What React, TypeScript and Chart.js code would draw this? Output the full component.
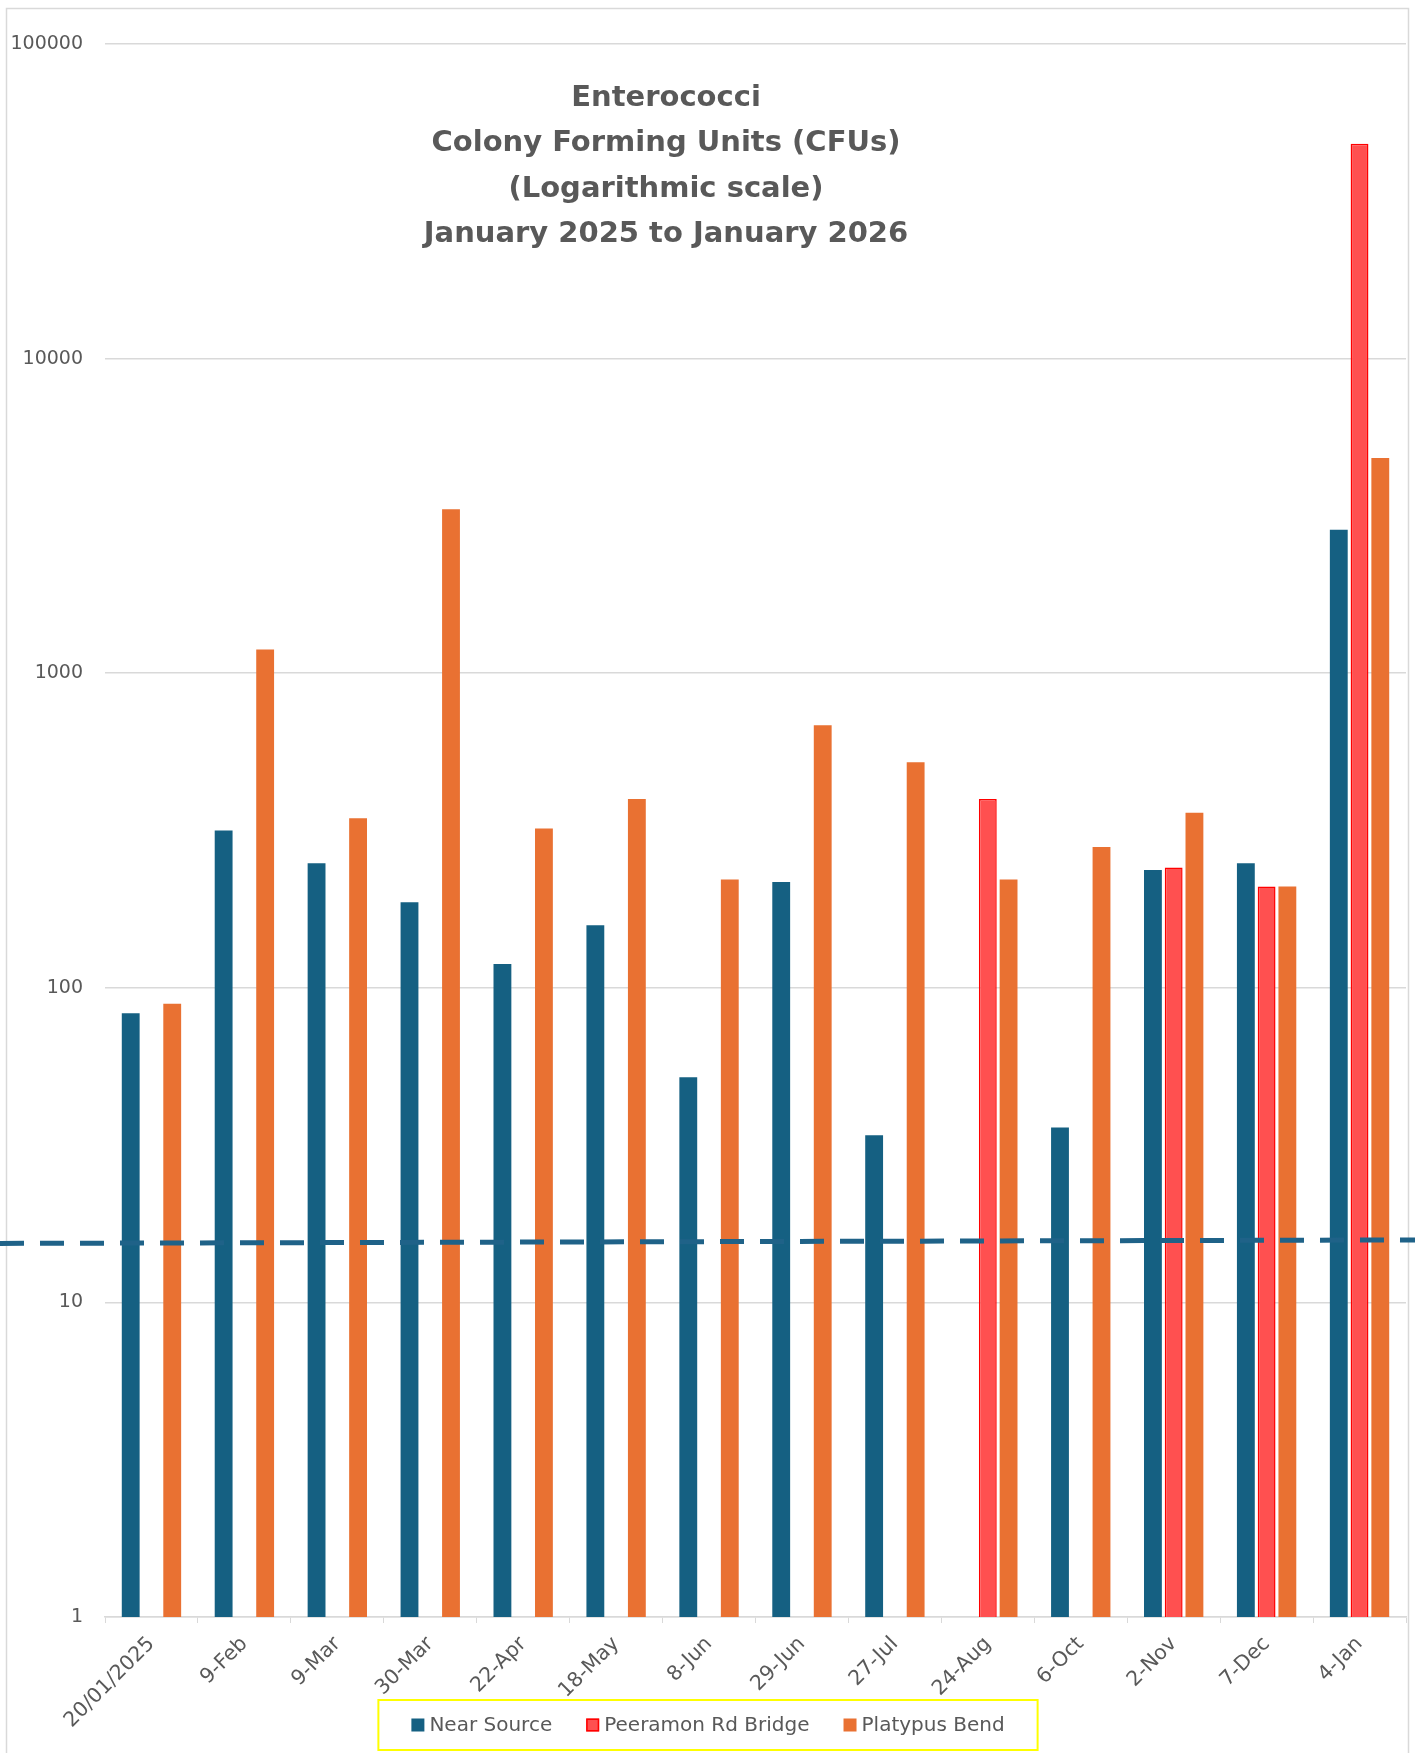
import React, { useEffect, useRef } from "react";
import { Chart, registerables } from "chart.js";

Chart.register(...registerables);

const categories = [
  "20/01/2025", "9-Feb", "9-Mar", "30-Mar", "22-Apr", "18-May", "8-Jun",
  "29-Jun", "27-Jul", "24-Aug", "6-Oct", "2-Nov", "7-Dec", "4-Jan",
];
const nearSource = [83, 316, 249, 187, 119, 158, 52, 217, 34, null, 36, 237, 249, 2860];
const peeramonRdBridge = [null, null, null, null, null, null, null, null, null, 398, null, 241, 210, 48200];
const platypusBend = [89, 1190, 346, 3320, 321, 398, 221, 683, 521, 221, 280, 360, 210, 4830];
const yTickValues = [1, 10, 100, 1000, 10000, 100000];
// dashed reference line: value at the left edge and at the right edge
const referenceLine = [15.4, 15.8];
const titleLines = [
  "Enterococci",
  "Colony Forming Units (CFUs)",
  "(Logarithmic scale)",
  "January 2025 to January 2026",
];

const W = 1415;
const H = 1753;
const GRAY_TEXT = "#595959";
const GRID = "#D9D9D9";
const FONT = "'DejaVu Sans', 'Liberation Sans', sans-serif";

const decorPlugin = {
  id: "decor",
  beforeDraw(chart: any) {
    const ctx = chart.ctx;
    ctx.save();
    ctx.fillStyle = "#ffffff";
    ctx.fillRect(0, 0, chart.width, chart.height);
    ctx.strokeStyle = GRID;
    ctx.lineWidth = 1.5;
    ctx.strokeRect(6.5, 8.5, 1402, chart.height + 20);
    ctx.restore();
  },
  afterDatasetsDraw(chart: any) {
    const ctx = chart.ctx;
    const y = chart.scales.y;
    const y0 = y.getPixelForValue(referenceLine[0]);
    const y1 = y.getPixelForValue(referenceLine[1]);
    ctx.save();
    ctx.strokeStyle = "#1f6288";
    ctx.lineWidth = 5;
    ctx.setLineDash([24, 16]);
    ctx.beginPath();
    ctx.moveTo(0, y0);
    ctx.lineTo(chart.width, y1);
    ctx.stroke();
    ctx.restore();
  },
  afterDraw(chart: any) {
    const ctx = chart.ctx;
    ctx.save();
    // title
    ctx.fillStyle = GRAY_TEXT;
    ctx.font = `bold 29px ${FONT}`;
    ctx.textAlign = "center";
    ctx.textBaseline = "middle";
    const cx = 666;
    titleLines.forEach((t, i) => ctx.fillText(t, cx, 98 + i * 45.5));

    // legend
    ctx.font = `20px ${FONT}`;
    ctx.textAlign = "left";
    const box = 13;
    const gapBoxText = 5;
    const gapItems = 34;
    const items = chart.data.datasets.map((d: any) => ({
      label: d.label,
      fill: d.backgroundColor,
      stroke: d.borderWidth ? d.borderColor : null,
      w: box + gapBoxText + ctx.measureText(d.label).width,
    }));
    const total = items.reduce((s: number, it: any) => s + it.w, 0) + gapItems * (items.length - 1);
    let x = 708 - total / 2;
    const cy = 1725;
    ctx.strokeStyle = "#FFFF00";
    ctx.lineWidth = 2;
    ctx.strokeRect(x - 33, cy - 25, total + 66, 50);
    items.forEach((it: any) => {
      ctx.fillStyle = it.fill;
      ctx.fillRect(x, cy - box / 2, box, box);
      if (it.stroke) {
        ctx.strokeStyle = it.stroke;
        ctx.lineWidth = 1.5;
        ctx.strokeRect(x + 0.75, cy - box / 2 + 0.75, box - 1.5, box - 1.5);
      }
      ctx.fillStyle = GRAY_TEXT;
      ctx.fillText(it.label, x + box + gapBoxText, cy + 1);
      x += it.w + gapItems;
    });
    ctx.restore();
  },
};

export default function App() {
  const ref = useRef<HTMLCanvasElement | null>(null);
  useEffect(() => {
    if (!ref.current) return;
    const chart = new Chart(ref.current, {
      type: "bar",
      data: {
        labels: categories,
        datasets: [
          {
            label: "Near Source",
            data: nearSource as any,
            backgroundColor: "#156082",
            borderWidth: 0,
          },
          {
            label: "Peeramon Rd Bridge",
            data: peeramonRdBridge as any,
            backgroundColor: "#FF5050",
            borderColor: "#FF0000",
            borderWidth: 1.5,
          },
          {
            label: "Platypus Bend",
            data: platypusBend as any,
            backgroundColor: "#E97132",
            borderWidth: 0,
          },
        ],
      },
      options: {
        responsive: false,
        animation: false,
        devicePixelRatio: 1,
        layout: { padding: { left: 0, right: 9, top: 44, bottom: 0 } },
        datasets: {
          bar: { categoryPercentage: 0.67, barPercentage: 0.86 },
        },
        plugins: {
          legend: { display: false },
          title: { display: false },
          tooltip: { enabled: false },
        },
        scales: {
          x: {
            offset: true,
            grid: {
              display: true,
              drawOnChartArea: false,
              drawTicks: true,
              tickLength: 6,
              color: GRID,
              offset: true,
            },
            border: { display: true, color: GRID, width: 1.5 },
            ticks: {
              minRotation: 45,
              maxRotation: 45,
              autoSkip: false,
              padding: 9,
              color: GRAY_TEXT,
              font: { family: FONT, size: 20.5 },
            },
            afterFit(scale: any) {
              scale.height = H - 1617;
            },
          },
          y: {
            type: "logarithmic",
            min: 1,
            max: 100000,
            grid: { color: GRID, lineWidth: 1.5, drawTicks: false },
            border: { display: false },
            ticks: {
              padding: 22,
              color: GRAY_TEXT,
              font: { family: FONT, size: 19 },
              callback: (v: any) => String(v),
            },
            afterBuildTicks(scale: any) {
              scale.ticks = yTickValues.map((v) => ({ value: v }));
            },
            afterFit(scale: any) {
              scale.width = 105;
            },
          },
        },
      },
      plugins: [decorPlugin],
    });
    return () => chart.destroy();
  }, []);
  return (
    <div style={{ position: "absolute", left: 0, top: 0, width: W, height: H }}>
      <canvas ref={ref} width={W} height={H} style={{ width: W, height: H, display: "block" }} />
    </div>
  );
}
